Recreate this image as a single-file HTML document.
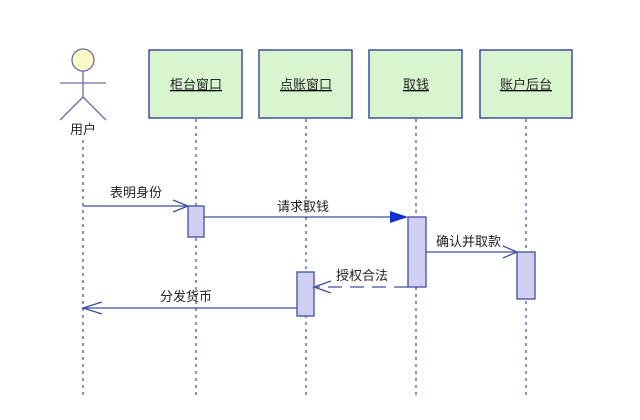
<!DOCTYPE html>
<html><head><meta charset="utf-8"><style>
html,body{margin:0;padding:0;background:#fff;}
svg{display:block;}
text{font-family:"Liberation Sans","Noto Sans CJK SC",sans-serif;font-size:13px;fill:#222;}
</style></head><body>
<svg width="640" height="420" viewBox="0 0 640 420">
<g stroke="#6a6aa8" stroke-width="1.5" stroke-dasharray="3,4">
<line x1="83" y1="140" x2="83" y2="395"/>
<line x1="196" y1="119" x2="196" y2="395"/>
<line x1="306" y1="119" x2="306" y2="395"/>
<line x1="416" y1="119" x2="416" y2="395"/>
<line x1="526" y1="119" x2="526" y2="395"/>
</g>
<g fill="#d8f5cf" stroke="#3e4fa0" stroke-width="1.5">
<rect x="149" y="50" width="93" height="68"/>
<rect x="259" y="50" width="93" height="68"/>
<rect x="369" y="50" width="93" height="68"/>
<rect x="480" y="50" width="92" height="68"/>
</g>
<g text-anchor="middle" style="text-decoration:underline">
<text x="196" y="89">柜台窗口</text>
<text x="306" y="89">点账窗口</text>
<text x="416" y="89">取钱</text>
<text x="526" y="89">账户后台</text>
</g>
<circle cx="83" cy="60" r="11" fill="#fafac8" stroke="#6a6aa8" stroke-width="1.3"/>
<g stroke="#6a6aa8" stroke-width="1.3" fill="none">
<line x1="83" y1="71" x2="83" y2="97"/>
<line x1="60" y1="83" x2="106" y2="83"/>
<polyline points="60,120 83,97 106,120"/>
</g>
<text x="83" y="134" text-anchor="middle">用户</text>
<g fill="#d0d0f5" stroke="#3e4fa0" stroke-width="1.3">
<rect x="188" y="206" width="16" height="31"/>
<rect x="408" y="217" width="18" height="70"/>
<rect x="517" y="252" width="18" height="47"/>
<rect x="297" y="272" width="17" height="44"/>
</g>
<g stroke="#3e4fa0" stroke-width="1.3" fill="none">
<line x1="83" y1="206" x2="188" y2="206"/>
<polyline points="173,200 188,206 173,212"/>
<line x1="204" y1="217" x2="396" y2="217"/>
<line x1="426" y1="252" x2="517" y2="252"/>
<polyline points="503,246 517,252 503,258"/>
<line x1="408" y1="287" x2="314" y2="287" stroke-dasharray="14,8"/>
<polyline points="331,281 314,287 331,293"/>
<line x1="297" y1="308" x2="83" y2="308"/>
<polyline points="102,302 83,308 102,314"/>
</g>
<polygon points="390,211 408,217 390,223" fill="#1030d0"/>
<text x="110" y="197">表明身份</text>
<text x="277" y="211">请求取钱</text>
<text x="436" y="246">确认并取款</text>
<text x="336" y="280">授权合法</text>
<text x="160" y="301">分发货币</text>
</svg>
</body></html>
